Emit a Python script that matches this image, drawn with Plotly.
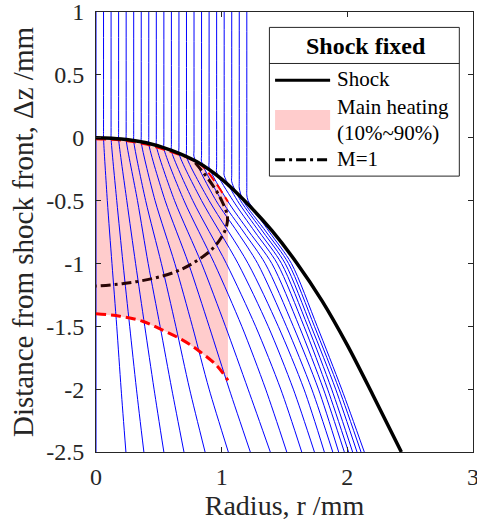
import plotly.graph_objects as go

# ---------------- data ----------------
# Shock front (r, dz)
shock_r = [0, 0.2, 0.4, 0.6, 0.8, 1.0, 1.2, 1.4, 1.6, 1.8, 2.0, 2.2, 2.43]
shock_z = [0, -0.01, -0.04, -0.1, -0.19, -0.33, -0.52, -0.74, -1.0, -1.3, -1.65, -2.04, -2.5]

# Main heating: 10 % line (upper) and 90 % line (lower)
heat10_r = [0, 0.2, 0.4, 0.6, 0.75, 0.85, 0.95, 1.05]
heat10_z = [-0.012, -0.022, -0.055, -0.115, -0.17, -0.23, -0.355, -0.51]
heat90_r = [0, 0.19, 0.37, 0.53, 0.69, 0.825, 0.958, 1.05]
heat90_z = [-1.40, -1.42, -1.46, -1.53, -1.61, -1.70, -1.81, -1.93]

# Sonic line M=1
mach_r = [0.79, 0.84, 0.93, 1.0, 1.045, 1.04, 1.0, 0.92, 0.8, 0.65, 0.45, 0.22, 0]
mach_z = [-0.2, -0.26, -0.38, -0.5, -0.62, -0.7, -0.79, -0.89, -0.98, -1.06, -1.12, -1.16, -1.18]

# Streamlines: upstream radius, end of straight part, radius at given depths
stream_r0 = [0, 0.06, 0.12, 0.18, 0.24, 0.30, 0.36, 0.42, 0.48, 0.54, 0.60,
             0.66, 0.72, 0.78, 0.84, 0.90, 0.96, 1.02, 1.08, 1.14, 1.20]
stream_zbend = [-2.5, -0.001, -0.005, -0.01, -0.017, -0.026, -0.036, -0.05, -0.065, -0.085, -0.105,
                -0.125, -0.15, -0.15, -0.19, -0.235, -0.275, -0.30, -0.35, -0.40, -0.455]
stream_levels = [-0.5, -0.75, -1.0, -1.5, -2.0, -2.5]
stream_r_m050 = [0, 0.09, 0.165, 0.245, 0.33, 0.395, 0.47, 0.55, 0.625, 0.70, 0.77,
                 0.84, 0.90, 0.955, 1.0, 1.045, 1.09, 1.125, 1.15, 1.17, 1.21]
stream_r_m075 = [None] * 13 + [1.125, 1.175, 1.22, 1.265, 1.30, 1.33, 1.355, 1.38]
stream_r_m100 = [0, 0.127, 0.215, 0.315, 0.415, 0.52, 0.627, 0.736, 0.84, 0.942, 1.037,
                 1.13, 1.21, 1.286, 1.346, 1.399, 1.442, 1.476, 1.505, 1.532, 1.555]
stream_r_m150 = [0, 0.165, 0.268, 0.388, 0.51, 0.635, 0.767, 0.90, 1.03, 1.16, 1.27,
                 1.37, 1.45, 1.515, 1.57, 1.617, 1.655, 1.685, 1.712, 1.738, 1.76]
stream_r_m200 = [0, 0.20, 0.322, 0.462, 0.603, 0.745, 0.90, 1.06, 1.21, 1.35, 1.47,
                 1.57, 1.655, 1.717, 1.77, 1.81, 1.843, 1.875, 1.907, 1.934, 1.955]
stream_r_m250 = [0, 0.238, 0.381, 0.54, 0.70, 0.868, 1.053, 1.228, 1.387, 1.518, 1.637,
                 1.738, 1.817, 1.884, 1.931, 1.976, 2.010, 2.042, 2.077, 2.109, 2.135]

# Axes
x_ticks = [0, 1, 2, 3]
y_ticks = [1, 0.5, 0, -0.5, -1, -1.5, -2, -2.5]
y_ticktext = ["1", "0.5", "0", "-0.5", "-1", "-1.5", "-2", "-2.5"]

legend_title = "Shock fixed"
legend_labels = ["Shock", "Main heating", "(10%~90%)", "M=1"]

# ---------------- figure ----------------
FONT = "Liberation Serif"
TXT = "#262626"

fig = go.Figure()

# Main heating region
fill_r = heat10_r + [heat90_r[-1]] + heat90_r[::-1]
fill_z = heat10_z + [heat90_z[-1]] + heat90_z[::-1]
fig.add_trace(go.Scatter(x=fill_r, y=fill_z, mode="lines", fill="toself",
                         fillcolor="#ffcccc", line=dict(width=0), hoverinfo="skip",
                         showlegend=False))

# Streamlines
cols = [stream_r_m050, stream_r_m075, stream_r_m100, stream_r_m150, stream_r_m200, stream_r_m250]
for i, r0 in enumerate(stream_r0):
    if r0 == 0:
        xs, ys = [r0, r0], [1.0, stream_zbend[i]]
    else:
        zb = stream_zbend[i]
        xs = [r0, r0, r0]
        ys = [1.0, zb + 0.05, zb]
        for lev, col in zip(stream_levels, cols):
            v = col[i]
            if v is None:
                continue
            xs.append(v)
            ys.append(lev)
    fig.add_trace(go.Scatter(x=xs, y=ys, mode="lines",
                             line=dict(color="#0000ff", width=1, shape="spline", smoothing=0.8),
                             hoverinfo="skip", showlegend=False))

# Heating boundaries (red dashed)
fig.add_trace(go.Scatter(x=heat10_r, y=heat10_z, mode="lines",
                         line=dict(color="#ff0000", width=2, dash="10px,5px", shape="spline"),
                         showlegend=False))
fig.add_trace(go.Scatter(x=heat90_r, y=heat90_z, mode="lines",
                         line=dict(color="#ff0000", width=3, dash="10px,5px", shape="spline"),
                         showlegend=False))

# M=1 line
fig.add_trace(go.Scatter(x=mach_r, y=mach_z, mode="lines",
                         line=dict(color="#2a0505", width=3, dash="10px,4px,3px,4px", shape="spline"),
                         showlegend=False))

# Shock
fig.add_trace(go.Scatter(x=shock_r, y=shock_z, mode="lines",
                         line=dict(color="#000000", width=3.5, shape="spline", smoothing=0.8),
                         showlegend=False))

# ---------------- manual legend (paper coordinates) ----------------
shapes = []
anns = []
bx0, bx1, by0, by1 = 0.46, 0.9637, 0.627, 0.965
shapes.append(dict(type="rect", xref="paper", yref="paper", x0=bx0, x1=bx1, y0=by0, y1=by1,
                   line=dict(color=TXT, width=1), fillcolor="white", layer="above"))
shapes.append(dict(type="line", xref="paper", yref="paper", x0=bx0, x1=bx1, y0=0.883, y1=0.883,
                   line=dict(color=TXT, width=1), layer="above"))
sx0, sx1 = 0.475, 0.621
shapes.append(dict(type="line", xref="paper", yref="paper", x0=sx0, x1=sx1, y0=0.845, y1=0.845,
                   line=dict(color="black", width=3), layer="above"))
shapes.append(dict(type="rect", xref="paper", yref="paper", x0=sx0, x1=sx1, y0=0.732, y1=0.777,
                   line=dict(width=0), fillcolor="#ffcccc", layer="above"))
shapes.append(dict(type="line", xref="paper", yref="paper", x0=sx0, x1=sx1, y0=0.664, y1=0.664,
                   line=dict(color="black", width=3, dash="10px,4px,3px,4px"), layer="above"))

anns.append(dict(xref="paper", yref="paper", x=0.7155, y=0.923, text="<b>" + legend_title + "</b>",
                 showarrow=False, xanchor="center", yanchor="middle",
                 font=dict(family=FONT, size=24, color="black")))
for lab, yy in zip(legend_labels, [0.847, 0.784, 0.724, 0.666]):
    anns.append(dict(xref="paper", yref="paper", x=0.635, y=yy, text=lab, showarrow=False,
                     xanchor="left", yanchor="middle",
                     font=dict(family=FONT, size=21, color="black")))

fig.update_layout(
    width=477, height=529,
    margin=dict(l=96, r=4, t=12, b=77),
    paper_bgcolor="white", plot_bgcolor="white",
    font=dict(family=FONT, color=TXT),
    shapes=shapes, annotations=anns,
    showlegend=False,
)
fig.update_xaxes(range=[0, 3], tickvals=x_ticks, ticks="inside", ticklen=5, tickwidth=1,
                 tickcolor=TXT, showline=True, linecolor=TXT, linewidth=1, mirror="ticks",
                 showgrid=False, zeroline=False, tickfont=dict(size=24, family=FONT, color=TXT),
                 ticklabelstandoff=3, ticklabeloverflow="allow", automargin=False,
                 title=dict(text="Radius, r /mm", font=dict(size=28, family=FONT, color=TXT), standoff=4))
fig.update_yaxes(range=[-2.5, 1], tickvals=y_ticks, ticktext=y_ticktext, ticks="inside", ticklen=5,
                 tickwidth=1, tickcolor=TXT, showline=True, linecolor=TXT, linewidth=1, mirror="ticks",
                 showgrid=False, zeroline=False, tickfont=dict(size=24, family=FONT, color=TXT),
                 ticklabelstandoff=6, ticklabeloverflow="allow", automargin=False,
                 title=dict(text="Distance from shock front, \u0394z /mm",
                            font=dict(size=29, family=FONT, color=TXT), standoff=4))

fig.write_html("out.html")
